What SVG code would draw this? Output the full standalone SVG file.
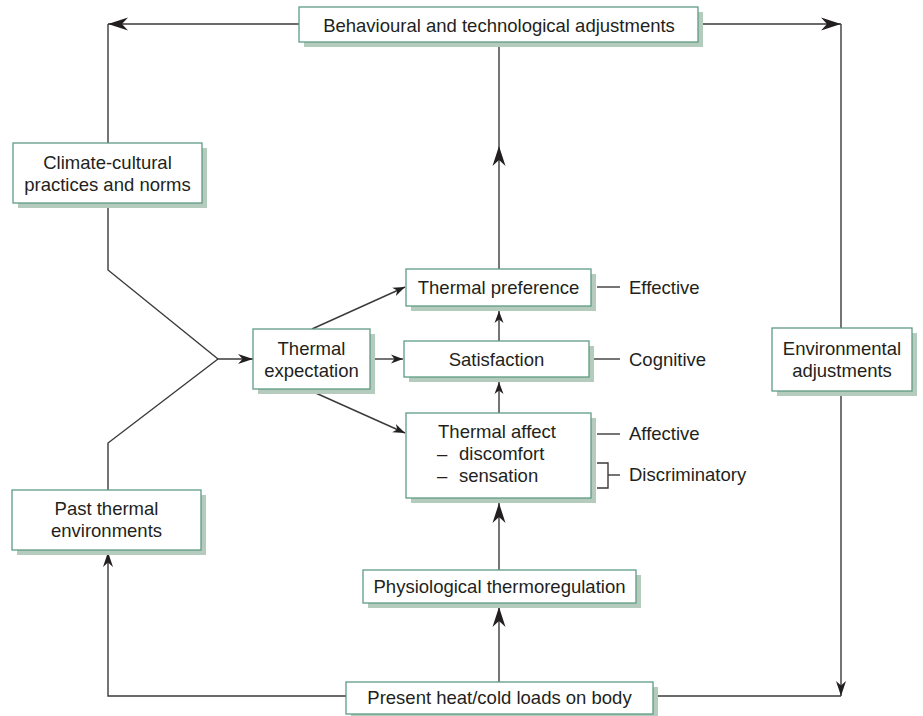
<svg xmlns="http://www.w3.org/2000/svg" width="923" height="716" viewBox="0 0 923 716">
<style>
  .shadow { fill: #b4cbbe; }
  .box { fill: #ffffff; stroke: #5e9c85; stroke-width: 1.3; }
  .t { font-family: "Liberation Sans", Arial, sans-serif; font-size: 18.5px; fill: #231f20; }
  .c { text-anchor: middle; }
  .ln { fill: none; stroke: #3a3a3a; stroke-width: 1.4; }
  .ah { fill: #231f20; }
</style>
<defs>
  <marker id="aL" markerUnits="userSpaceOnUse" markerWidth="20" markerHeight="13" refX="20" refY="6.5" orient="auto" overflow="visible">
    <path class="ah" d="M0,0 L20,6.5 L0,13 L6,6.5 z"/>
  </marker>
  <marker id="aM" markerUnits="userSpaceOnUse" markerWidth="15" markerHeight="10" refX="15" refY="5" orient="auto" overflow="visible">
    <path class="ah" d="M0,0 L15,5 L0,10 L4.5,5 z"/>
  </marker>
  <marker id="aS" markerUnits="userSpaceOnUse" markerWidth="12" markerHeight="9" refX="12" refY="4.5" orient="auto" overflow="visible">
    <path class="ah" d="M0,0 L12,4.5 L0,9 L3.5,4.5 z"/>
  </marker>
</defs>

<g id="connectors">
  <path class="ln" d="M299,24 L108,24" marker-end="url(#aL)"/>
  <path class="ln" d="M108,24 L108,143"/>
  <path class="ln" d="M703,24 L841,24" marker-end="url(#aL)"/>
  <path class="ln" d="M841,24 L841,328"/>
  <path class="ln" d="M841,396 L841,696" marker-end="url(#aM)"/>
  <path class="ln" d="M841,696 L658,696"/>
  <path class="ln" d="M346,696 L108,696 L108,552" marker-end="url(#aM)"/>
  <path class="ln" d="M108,208 L108,270 L218,359"/>
  <path class="ln" d="M108,490 L108,443 L218,359"/>
  <path class="ln" d="M218,359 L253,359" marker-end="url(#aM)"/>
  <path class="ln" d="M312,329 L405,287" marker-end="url(#aS)"/>
  <path class="ln" d="M375,359 L403,359" marker-end="url(#aS)"/>
  <path class="ln" d="M309,390 L405,433" marker-end="url(#aS)"/>
  <path class="ln" d="M499,341 L499,311" marker-end="url(#aS)"/>
  <path class="ln" d="M499,413 L499,382" marker-end="url(#aS)"/>
  <path class="ln" d="M499,570 L499,503" marker-end="url(#aL)"/>
  <path class="ln" d="M499,682 L499,607" marker-end="url(#aL)"/>
  <path class="ln" d="M499,269 L499,146" marker-end="url(#aL)"/>
  <path class="ln" d="M499,146 L499,47"/>
  <path class="ln" d="M597,287 L620,287"/>
  <path class="ln" d="M594,359 L620,359"/>
  <path class="ln" d="M597,434 L620,434"/>
  <path class="ln" d="M597,463 L608,463 L608,488 L597,488"/>
  <path class="ln" d="M608,475 L620,475"/>
</g>

<g id="behavioural">
  <rect class="shadow" x="304" y="12" width="399" height="35"/>
  <rect class="box" x="299" y="7" width="399" height="35"/>
  <text class="t c" x="499" y="31.5">Behavioural and technological adjustments</text>
</g>
<g id="climate">
  <rect class="shadow" x="18" y="148" width="189" height="60"/>
  <rect class="box" x="13" y="143" width="189" height="60"/>
  <text class="t c" x="107.5" y="169">Climate-cultural</text>
  <text class="t c" x="107.5" y="191">practices and norms</text>
</g>
<g id="past">
  <rect class="shadow" x="17" y="495" width="189" height="60"/>
  <rect class="box" x="12" y="490" width="189" height="60"/>
  <text class="t c" x="106.5" y="515">Past thermal</text>
  <text class="t c" x="106.5" y="537">environments</text>
</g>
<g id="expectation">
  <rect class="shadow" x="258" y="334" width="117" height="60"/>
  <rect class="box" x="253" y="329" width="117" height="60"/>
  <text class="t c" x="311.5" y="355">Thermal</text>
  <text class="t c" x="311.5" y="377">expectation</text>
</g>
<g id="preference">
  <rect class="shadow" x="411" y="274" width="185" height="37"/>
  <rect class="box" x="406" y="269" width="185" height="37"/>
  <text class="t c" x="498.5" y="294">Thermal preference</text>
</g>
<g id="satisfaction">
  <rect class="shadow" x="409" y="346" width="185" height="36"/>
  <rect class="box" x="404" y="341" width="185" height="36"/>
  <text class="t c" x="496.5" y="366">Satisfaction</text>
</g>
<g id="affect">
  <rect class="shadow" x="411" y="418" width="185" height="85"/>
  <rect class="box" x="406" y="413" width="185" height="85"/>
  <text class="t c" x="497" y="438">Thermal affect</text>
  <text class="t" x="437" y="460">–<tspan x="459">discomfort</tspan></text>
  <text class="t" x="437" y="482">–<tspan x="459">sensation</tspan></text>
</g>
<g id="physiological">
  <rect class="shadow" x="368" y="575" width="273" height="33"/>
  <rect class="box" x="363" y="570" width="273" height="33"/>
  <text class="t c" x="499.5" y="593">Physiological thermoregulation</text>
</g>
<g id="present">
  <rect class="shadow" x="351" y="687" width="307" height="32"/>
  <rect class="box" x="346" y="682" width="307" height="32"/>
  <text class="t c" x="499.5" y="704">Present heat/cold loads on body</text>
</g>
<g id="environmental">
  <rect class="shadow" x="777" y="333" width="140" height="63"/>
  <rect class="box" x="772" y="328" width="140" height="63"/>
  <text class="t c" x="842" y="355">Environmental</text>
  <text class="t c" x="842" y="377">adjustments</text>
</g>
<g id="labels">
  <text class="t" x="629" y="294">Effective</text>
  <text class="t" x="629" y="366">Cognitive</text>
  <text class="t" x="629" y="440">Affective</text>
  <text class="t" x="629" y="481">Discriminatory</text>
</g>
</svg>
